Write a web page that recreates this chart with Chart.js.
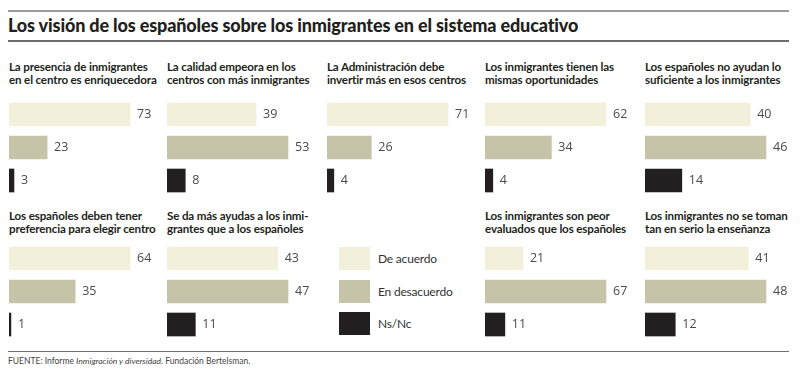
<!DOCTYPE html>
<html>
<head>
<meta charset="utf-8">
<script src="https://cdn.jsdelivr.net/npm/chart.js@4.4.1/dist/chart.umd.min.js"></script>
<style>
	body { margin: 0; width: 800px; height: 369px; background: #fff; position: relative; overflow: hidden; font-family: Lato, "Open Sans", sans-serif; }
	.rule { position: absolute; left: 8px; width: 781px; background: #9a9a9a; }
	#title { position: absolute; left: 8px; top: 14px; font-size: 18px; font-weight: 900; color: #231f20; letter-spacing: -0.15px; white-space: nowrap; }
	.ptitle { position: absolute; font-size: 11.6px; font-weight: 700; color: #231f20; line-height: 13px; white-space: nowrap; letter-spacing: -0.15px; }
	.panel { position: absolute; width: 150px; height: 99px; }
	.key { position: absolute; left: 339px; width: 31px; height: 23px; }
	.keytxt { position: absolute; left: 378px; font-size: 12px; color: #333; line-height: 23px; letter-spacing: -0.2px; }
	#source { position: absolute; left: 8px; top: 356px; font-size: 8.5px; color: #444; }
</style>
</head>
<body>
<div class="rule" style="top:10px;height:2px;"></div>
<div id="title">Los visión de los españoles sobre los inmigrantes en el sistema educativo</div>
<div class="rule" style="top:40px;height:2px;background:#6d6d6d;"></div>
<div class="rule" style="top:351px;height:1px;background:#6d6d6d;"></div>
<div id="source">FUENTE: Informe <i>Inmigración y diversidad</i>. Fundación Bertelsman.</div>

<script>
// answers shown in every panel
var categories = ["De acuerdo", "En desacuerdo", "Ns/Nc"];
var colors = ["#f2efda", "#c5c4a9", "#231f20"];

// panel questions (two lines each)
var questions = [
	["La presencia de inmigrantes", "en el centro es enriquecedora"],
	["La calidad empeora en los", "centros con más inmigrantes"],
	["La Administración debe", "invertir más en esos centros"],
	["Los inmigrantes tienen las", "mismas oportunidades"],
	["Los españoles no ayudan lo", "suficiente a los inmigrantes"],
	["Los españoles deben tener", "preferencia para elegir centro"],
	["Se da más ayudas a los inmi-", "grantes que a los españoles"],
	["Los inmigrantes son peor", "evaluados que los españoles"],
	["Los inmigrantes no se toman", "tan en serio la enseñanza"]
];

// percentages: de acuerdo / en desacuerdo / ns-nc
var p1 = [73, 23, 3];
var p2 = [39, 53, 8];
var p3 = [71, 26, 4];
var p4 = [62, 34, 4];
var p5 = [40, 46, 14];
var p6 = [64, 35, 1];
var p7 = [43, 47, 11];
var p8 = [21, 67, 11];
var p9 = [41, 48, 12];
var values = [p1, p2, p3, p4, p5, p6, p7, p8, p9];

// where each panel sits
var colX = [9, 167, 327, 485, 645];
var slots = [[0, 0], [1, 0], [2, 0], [3, 0], [4, 0], [0, 1], [1, 1], [3, 1], [4, 1]];
var rowTitleY = [60, 209];
var rowChartY = [98, 242];

var valueLabels = {
	id: "valueLabels",
	afterDatasetsDraw: function (chart) {
		var c = chart.ctx;
		var meta = chart.getDatasetMeta(0);
		c.save();
		c.font = "12.5px 'Open Sans', sans-serif";
		c.fillStyle = "#4a4a4a";
		c.textBaseline = "middle";
		meta.data.forEach(function (bar, i) {
			c.fillText(chart.data.datasets[0].data[i], bar.x + 7, bar.y);
		});
		c.restore();
	}
};

values.forEach(function (vals, k) {
	var x = colX[slots[k][0]];
	var row = slots[k][1];

	var t = document.createElement("div");
	t.className = "ptitle";
	t.style.left = x + "px";
	t.style.top = rowTitleY[row] + "px";
	t.innerHTML = questions[k][0] + "<br>" + questions[k][1];
	document.body.appendChild(t);

	var box = document.createElement("div");
	box.className = "panel";
	box.style.left = x + "px";
	box.style.top = rowChartY[row] + "px";
	var cv = document.createElement("canvas");
	box.appendChild(cv);
	document.body.appendChild(box);

	var top = Math.max.apply(null, vals);

	new Chart(cv, {
		type: "bar",
		data: {
			labels: categories,
			datasets: [{
				data: vals,
				backgroundColor: colors,
				borderWidth: 0,
				barThickness: 23
			}]
		},
		options: {
			indexAxis: "y",
			responsive: true,
			maintainAspectRatio: false,
			animation: false,
			layout: { padding: 0 },
			plugins: { legend: { display: false }, tooltip: { enabled: false } },
			scales: {
				x: { display: false, min: 0, max: top * 150 / 121 },
				y: { display: false }
			}
		},
		plugins: [valueLabels]
	});
});

// legend in the empty slot
categories.forEach(function (name, i) {
	var y = 247 + i * 32.5;
	var sq = document.createElement("div");
	sq.className = "key";
	sq.style.top = y + "px";
	sq.style.background = colors[i];
	document.body.appendChild(sq);
	var lb = document.createElement("div");
	lb.className = "keytxt";
	lb.style.top = y + "px";
	lb.textContent = name;
	document.body.appendChild(lb);
});
</script>
</body>
</html>
